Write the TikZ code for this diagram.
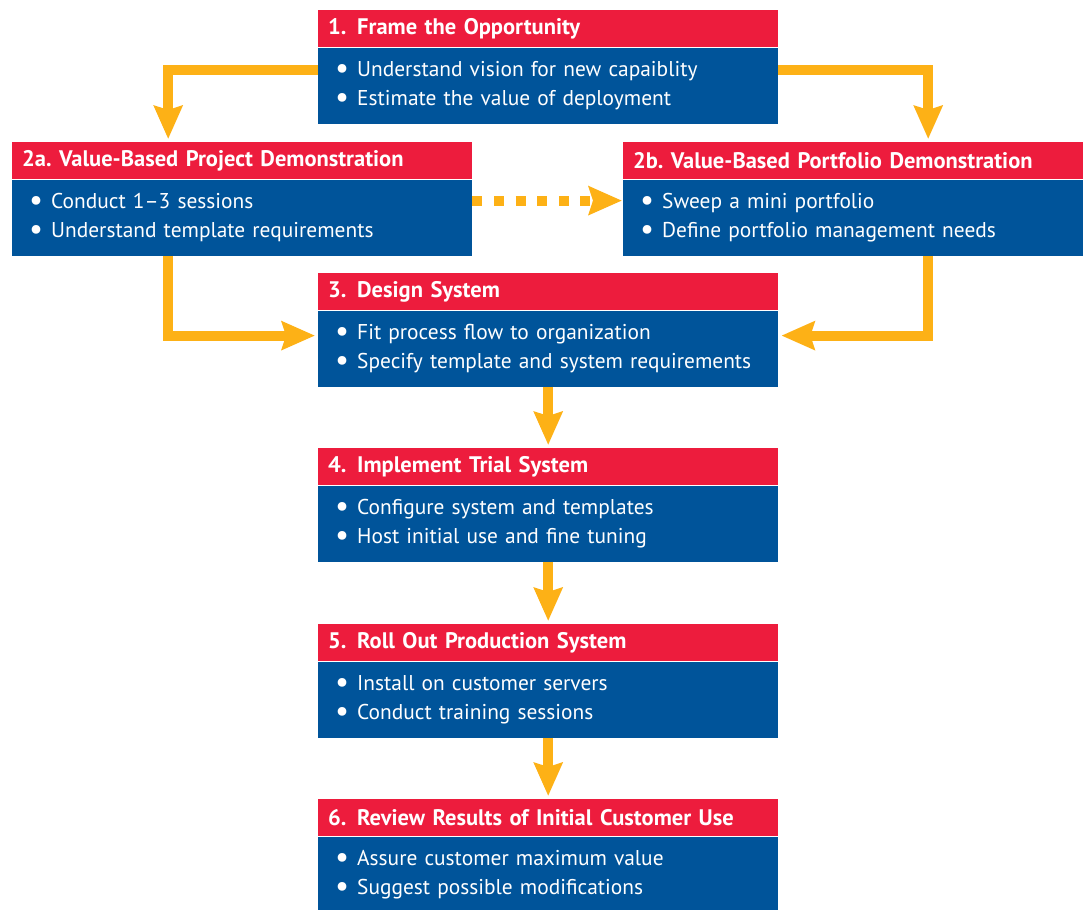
\documentclass[tikz,border=0pt]{standalone}
\usepackage{fontspec}
\setmainfont{PT Sans}
\usetikzlibrary{positioning,arrows.meta}

\definecolor{stepred}{HTML}{ED1C3D}
\definecolor{stepblue}{HTML}{00549A}
\definecolor{flowgold}{HTML}{FDB116}

\frenchspacing
\newcommand\stepnum[1]{\makebox[29pt][l]{#1}}
\newcommand\stepitem[1]{\hspace*{7pt}\makebox[22pt][l]{\raisebox{-0.1em}{\scalebox{1.45}{\textbullet}}}#1}

\tikzset{
  stephead/.style={fill=stepred, text=white, anchor=north west,
    font=\bfseries\fontsize{22.5}{24}\selectfont,
    minimum width=460pt, minimum height=37pt, text width=440pt,
    inner xsep=10pt, inner ysep=0pt, align=left},
  stepbody/.style={fill=stepblue, text=white,
    font=\fontsize{21.4}{29}\selectfont,
    minimum width=460pt, minimum height=76pt, text width=440pt,
    inner xsep=10pt, inner ysep=0pt, align=left},
  flow/.style={draw=flowgold, line width=10pt,
    -{Stealth[length=33pt,width=28pt,inset=4pt,fill=flowgold]}},
}

\begin{document}
\begin{tikzpicture}[x=1pt, y=-1pt]
  \useasboundingbox (0,0) rectangle (1087,910);

  % step boxes
  \node[stephead] (h1) at (318,10) {\stepnum{1.}Frame the Opportunity};
  \node[stepbody, below=0pt of h1] (b1) {\stepitem{Understand vision for new capaiblity}\\ \stepitem{Estimate the value of deployment}};

  \node[stephead] (h2a) at (12,142) {2a. Value-Based Project Demonstration};
  \node[stepbody, below=0pt of h2a] (b2a) {\stepitem{Conduct 1--3 sessions}\\ \stepitem{Understand template requirements}};

  \node[stephead] (h2b) at (623,142) {2b. Value-Based Portfolio Demonstration};
  \node[stepbody, below=0pt of h2b] (b2b) {\stepitem{Sweep a mini portfolio}\\ \stepitem{Define portfolio management needs}};

  \node[stephead] (h3) at (318,273) {\stepnum{3.}Design System};
  \node[stepbody, below=0pt of h3] (b3) {\stepitem{Fit process flow to organization}\\ \stepitem{Specify template and system requirements}};

  \node[stephead] (h4) at (318,448) {\stepnum{4.}Implement Trial System};
  \node[stepbody, below=0pt of h4] (b4) {\stepitem{Configure system and templates}\\ \stepitem{Host initial use and fine tuning}};

  \node[stephead] (h5) at (318,624) {\stepnum{5.}Roll Out Production System};
  \node[stepbody, below=0pt of h5] (b5) {\stepitem{Install on customer servers}\\ \stepitem{Conduct training sessions}};

  \node[stephead] (h6) at (318,799) {\stepnum{6.}Review Results of Initial Customer Use};
  \node[stepbody, below=0pt of h6] (b6) {\stepitem{Assure customer maximum value}\\ \stepitem{Suggest possible modifications}};

  % connectors
  \draw[flow, shorten >=3pt] ([yshift=16pt]b1.west) -| ([xshift=-74pt]h2a.north);
  \draw[flow, shorten >=3pt] ([yshift=16pt]b1.east) -| ([xshift=75pt]h2b.north);
  \draw[flow, dash pattern=on 10pt off 11.6pt, shorten >=1pt] ([yshift=17pt]b2a.east) -- ([yshift=17pt]b2b.west);
  \draw[flow, shorten >=3pt] ([xshift=-74pt]b2a.south) |- ([yshift=13pt]b3.west);
  \draw[flow, shorten >=3pt] ([xshift=75pt]b2b.south) |- ([yshift=13pt]b3.east);
  \draw[flow, shorten >=3pt] (b3) -- (h4);
  \draw[flow, shorten >=3pt] (b4) -- (h5);
  \draw[flow, shorten >=3pt] (b5) -- (h6);
\end{tikzpicture}
\end{document}
